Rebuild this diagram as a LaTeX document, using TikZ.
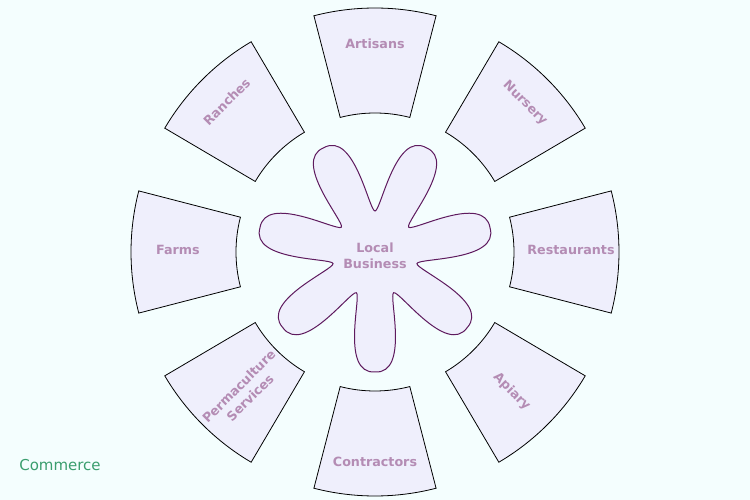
\documentclass[tikz,border=0pt]{standalone}
\usepackage{fontspec}
\setmainfont{DejaVu Sans}
\usepackage{xcolor}
\usepackage{tikz}
\definecolor{Azure}{HTML}{F4FEFE}
\definecolor{Lilac}{HTML}{EFEFFC}
\definecolor{Mauve}{HTML}{B48CB4}
\definecolor{Plum}{HTML}{5E1A5E}
\definecolor{Leaf}{HTML}{3A9E6E}

\begin{document}
\begin{tikzpicture}[x=1pt,y=1pt,
    sector/.style={draw=black,line width=0.8pt,fill=Lilac},
    petals/.style={draw=Plum,line width=1pt,fill=Lilac},
    lbl/.style={text=Mauve,font=\fontsize{12.7}{16}\selectfont\bfseries,align=center,inner sep=0pt}]
  \fill[Azure] (-375,-248) rectangle (375,252);
  \useasboundingbox (-375,-248) rectangle (375,252);
  % ring of sectors
  \foreach \a in {0,45,...,315}
    \draw[sector] ({\a-14.5}:139) arc[start angle=\a-14.5,end angle=\a+14.5,radius=139]
      -- ({\a+14.5}:244) arc[start angle=\a+14.5,end angle=\a-14.5,radius=244] -- cycle;
  % hub with seven petals
  \draw[petals,shift={(0,-2)}] (244.29:43)
    \foreach \k [evaluate=\k as \a using 270+360/7*\k] in {0,...,6} {
      .. controls ({\a-17.85}:43.4) and ({\a-16.26}:125) .. (\a:118)
      .. controls ({\a+16.26}:125) and ({\a+17.85}:43.4) .. ({\a+25.71}:43)
    } -- cycle;
  \node[lbl] (hub) at (0,-4) {Local\\Business};
  \node[lbl] (artisans) at (0,208) {Artisans};
  \node[lbl,rotate=-45] (nursery) at (150,148.7) {Nursery};
  \node[lbl] (restaurants) at (196,2) {Restaurants};
  \node[lbl,rotate=-45] (apiary) at (136.7,-139.7) {Apiary};
  \node[lbl] (contractors) at (0,-210) {Contractors};
  \node[lbl,rotate=45] (permaculture) at (-130.6,-140) {Permaculture\\Services};
  \node[lbl] (farms) at (-197,2) {Farms};
  \node[lbl,rotate=45] (ranches) at (-148.3,150.3) {Ranches};
  \node[text=Leaf,font=\fontsize{15}{18}\selectfont,inner sep=0pt] (commerce) at (-315,-213) {Commerce};
\end{tikzpicture}
\end{document}
